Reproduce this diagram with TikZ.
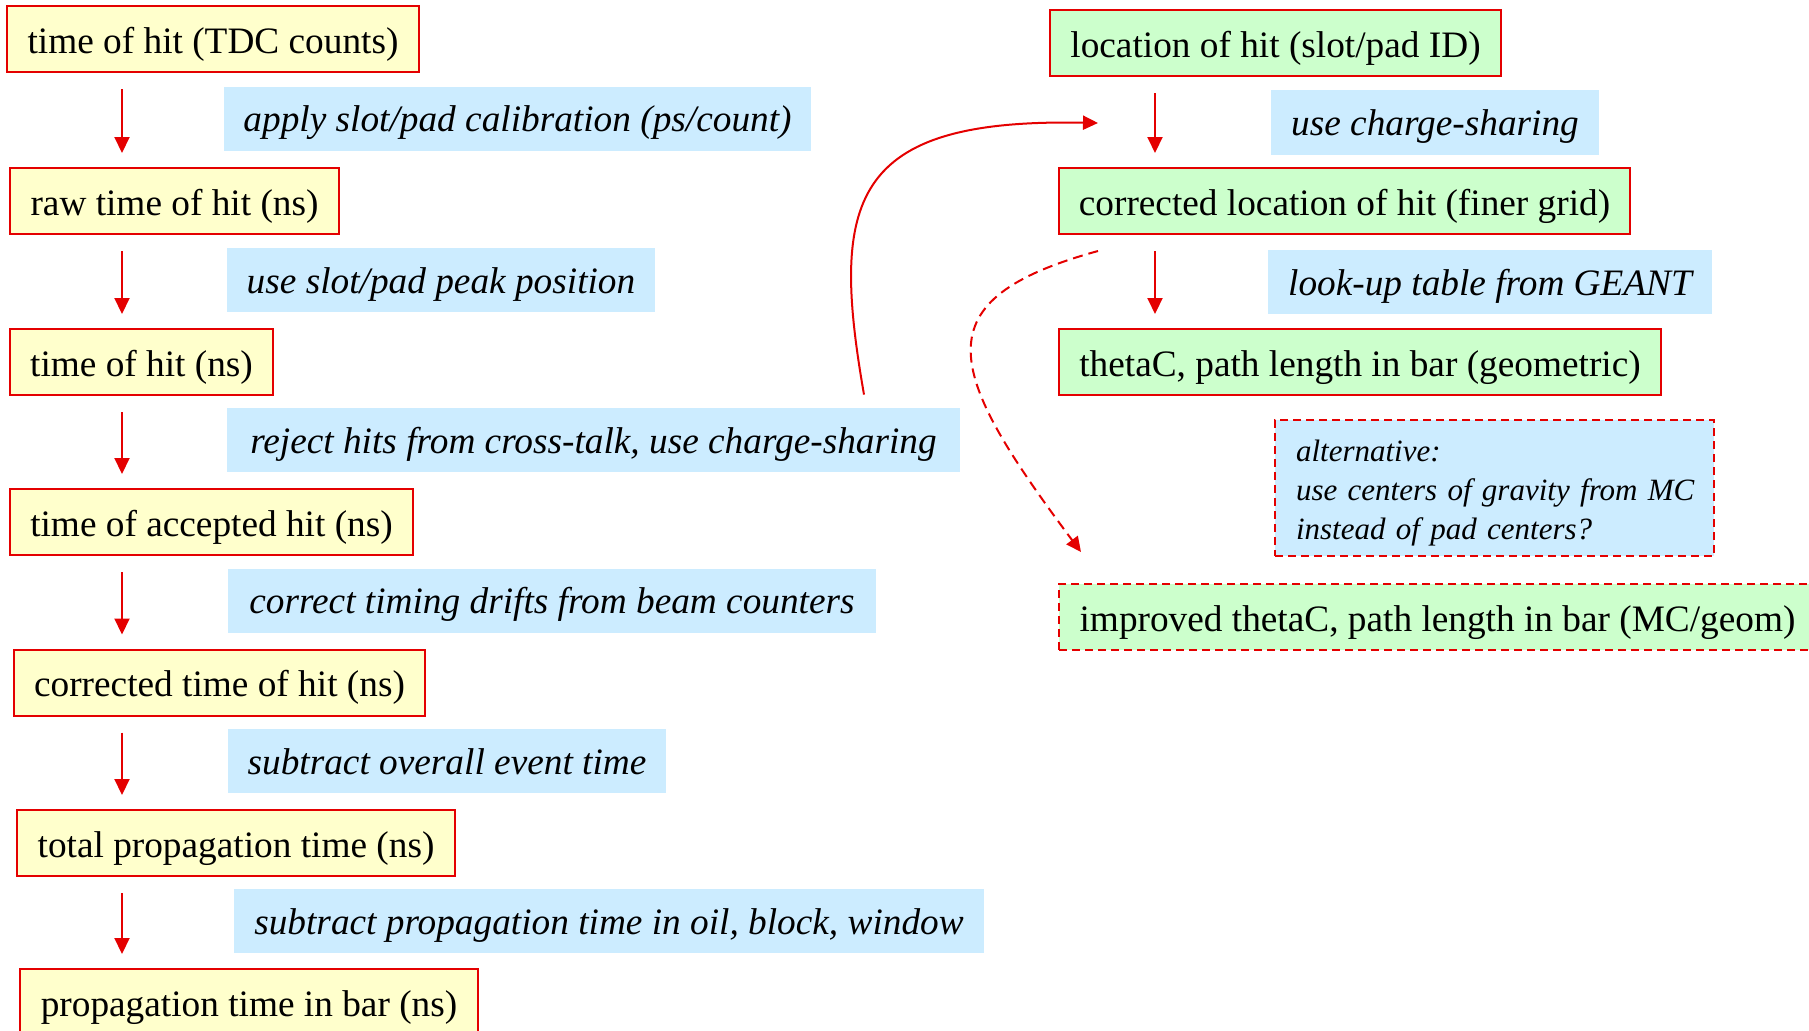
\documentclass[tikz,border=0pt]{standalone}
\usepackage{fontspec}
\setmainfont{Liberation Serif}
\usetikzlibrary{arrows.meta,calc}
\definecolor{lred}{RGB}{228,0,0}
\definecolor{yfill}{RGB}{255,255,204}
\definecolor{gfill}{RGB}{204,255,204}
\definecolor{bfill}{RGB}{204,236,255}
\tikzset{
  basebox/.style={inner sep=0pt, minimum height=33pt, text height=17.8pt, text depth=3.8pt,
    font=\fontsize{18.65pt}{22pt}\selectfont},
  ybox/.style={basebox, draw=lred, line width=1pt, fill=yfill},
  gbox/.style={basebox, draw=lred, line width=1pt, fill=gfill},
  gdash/.style={gbox, dash pattern=on 4pt off 2.5pt},
  bbox/.style={basebox, fill=bfill, minimum height=32pt, text height=17pt, text depth=3.8pt,
    font=\fontsize{18.65pt}{22pt}\selectfont\itshape},
  arr/.style={draw=lred, line width=1pt, -{Triangle[length=8pt,width=7.5pt]}, shorten <=8pt, shorten >=7pt},
  carr/.style={draw=lred, line width=1pt, -{Triangle[length=7.5pt,width=7pt]}},
  darr/.style={carr, dash pattern=on 5pt off 3pt}
}
\begin{document}
\begin{tikzpicture}[x=0.5pt,y=-0.5pt]
\useasboundingbox (0,0) rectangle (1809,1030);
% left column
\node[ybox, minimum width=206pt] (B1) at (213,39) {time of hit (TDC counts)};
\node[ybox, minimum width=164.5pt] (B2) at (174.5,201) {raw time of hit (ns)};
\node[ybox, minimum width=131.5pt] (B3) at (141.5,362) {time of hit (ns)};
\node[ybox, minimum width=201.5pt] (B4) at (211.5,522) {time of accepted hit (ns)};
\node[ybox, minimum width=205.5pt] (B5) at (219.5,682.5) {corrected time of hit (ns)};
\node[ybox, minimum width=219pt] (B6) at (236,843) {total propagation time (ns)};
\node[ybox, minimum width=229pt] (B7) at (249,1002) {propagation time in bar (ns)};
\node[bbox, minimum width=293.5pt] (L1) at (517.5,118.5) {apply slot/pad calibration (ps/count)};
\node[bbox, minimum width=214pt] (L2) at (441,280) {use slot/pad peak position};
\node[bbox, minimum width=366.5pt] (L3) at (593.5,440) {reject hits from cross-talk, use charge-sharing};
\node[bbox, minimum width=324pt] (L4) at (552,600.5) {correct timing drifts from beam counters};
\node[bbox, minimum width=219pt] (L5) at (447,761) {subtract overall event time};
\node[bbox, minimum width=375pt] (L6) at (609,921) {subtract propagation time in oil, block, window};
\coordinate (ax) at (122,0);
\draw[arr] (B1.south -| ax) -- (B2.north -| ax);
\draw[arr] (B2.south -| ax) -- (B3.north -| ax);
\draw[arr] (B3.south -| ax) -- (B4.north -| ax);
\draw[arr] (B4.south -| ax) -- (B5.north -| ax);
\draw[arr] (B5.south -| ax) -- (B6.north -| ax);
\draw[arr] (B6.south -| ax) -- (B7.north -| ax);
% right column
\node[gbox, minimum width=225.5pt] (G1) at (1275.5,43) {location of hit (slot/pad ID)};
\node[bbox, minimum width=164pt, minimum height=32.5pt] (R1) at (1435,122.5) {use charge-sharing};
\node[gbox, minimum width=285.5pt] (G2) at (1344.5,201) {corrected location of hit (finer grid)};
\node[bbox, minimum width=222pt] (R2) at (1490,282) {look-up table from GEANT};
\node[gbox, minimum width=301pt] (G3) at (1360,362) {thetaC, path length in bar (geometric)};
\node[fill=bfill, draw=lred, line width=1pt, dash pattern=on 4pt off 2.5pt, minimum height=68pt,
      inner ysep=0pt, text width=209.5pt, inner xsep=5pt, align=left,
      font=\fontsize{15.5pt}{19.5pt}\selectfont\itshape] (ALT) at (1494.5,488)
      {\rule{0pt}{16pt}\hspace*{5.5pt}alternative:\\\hspace*{5.5pt}use centers of gravity from MC\\\hspace*{5.5pt}instead of pad centers?};
\node[gdash, minimum width=378.5pt] (G4) at (1437.5,617) {improved thetaC, path length in bar (MC/geom)};
\coordinate (rx) at (1155,0);
\draw[arr] (G1.south -| rx) -- (G2.north -| rx);
\draw[arr] (G2.south -| rx) -- (G3.north -| rx);
% curved connectors
\coordinate (tgt) at (1098,123);
\draw[carr] ($(L3.north)+(270.5,-13)$) .. controls (830,200) and (850,118) .. (tgt);
\draw[darr] ($(G2.south west)+(40,16)$) .. controls (920,300) and (945,370) .. ($(G4.north west)+(23,-31)$);
\end{tikzpicture}
\end{document}
